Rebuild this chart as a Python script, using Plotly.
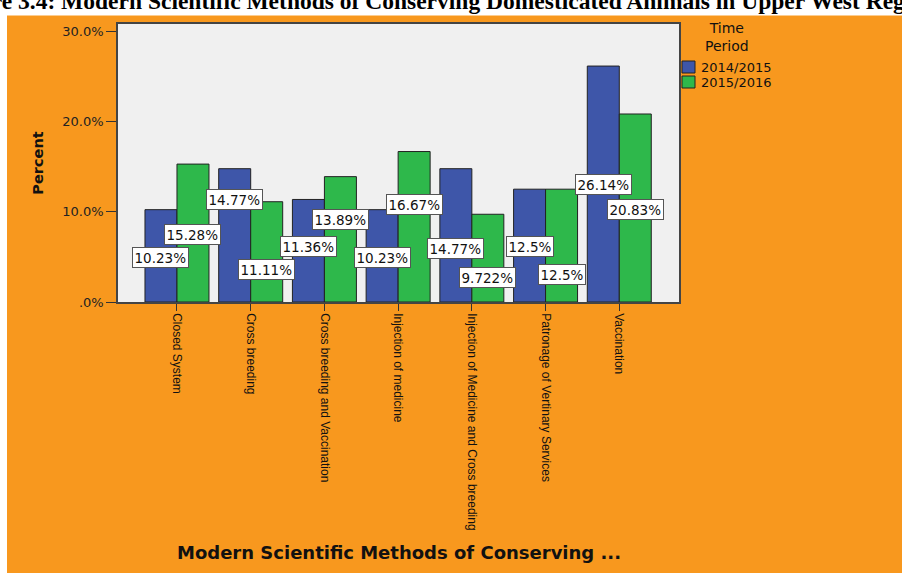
import plotly.graph_objects as go

# Methods (x categories) and the share of respondents per time period (%)
methods = [
    "Closed System",
    "Cross breeding",
    "Cross breeding and Vaccination",
    "Injection of medicine",
    "Injection of Medicine and Cross breeding",
    "Patronage of Vertinary Services",
    "Vaccination",
]
period_names = ["2014/2015", "2015/2016"]
pct_2014_2015 = [10.23, 14.77, 11.36, 10.23, 14.77, 12.5, 26.14]
pct_2015_2016 = [15.28, 11.11, 13.89, 16.67, 9.722, 12.5, 20.83]

# y-axis ticks
y_tick_vals = [0, 10, 20, 30]
y_tick_text = [".0%", "10.0%", "20.0%", "30.0%"]

# vertical placement of the value boxes (in percent units)
label_pos_2014 = [4.98, 11.4, 6.2, 4.98, 5.98, 6.2, 13.06]
label_pos_2015 = [7.53, 3.65, 9.19, 10.85, 2.77, 3.1, 10.3]

ORANGE = "#F8981E"
COLORS = ["#3E56A9", "#2EB84B"]
W, H = 902, 573
L, R, T, B = 118, 223, 24, 271

fig = go.Figure()
for name, vals, col in zip(period_names, [pct_2014_2015, pct_2015_2016], COLORS):
    fig.add_trace(go.Bar(
        x=methods, y=vals, name=name, showlegend=False,
        marker=dict(color=col, line=dict(color="#222222", width=1)),
    ))

bar_w = 0.434
annotations = []
for i in range(len(methods)):
    for vals, pos, off in [
        (pct_2014_2015, label_pos_2014, -bar_w / 2),
        (pct_2015_2016, label_pos_2015, bar_w / 2),
    ]:
        annotations.append(dict(
            x=i + off, y=pos[i], xref="x", yref="y",
            text=f"{vals[i]:.4g}%", showarrow=False,
            font=dict(family="DejaVu Sans", size=13.5, color="#111111"),
            bgcolor="white", bordercolor="#555555", borderwidth=1, borderpad=1.5,
        ))

# x-axis title
annotations.append(dict(
    x=0.5, y=0, xref="paper", yref="paper", yanchor="middle", yshift=-250,
    text="<b>Modern Scientific Methods of Conserving ...</b>", showarrow=False,
    font=dict(family="DejaVu Sans", size=18, color="#111111"),
))
# caption line running across the top edge
annotations.append(dict(
    x=0, y=1, xref="paper", yref="paper", xanchor="left", yanchor="bottom",
    xshift=-L - 56, yshift=7.5,
    text="<b>Figure 3.4: Modern Scientific Methods of Conserving Domesticated Animals in Upper West Region</b>",
    showarrow=False,
    font=dict(family="Liberation Serif, Times New Roman, serif", size=23.5, color="#000000"),
))

# legend, drawn to the right of the plot area
legend_font = dict(family="DejaVu Sans", size=13, color="#111111")
annotations.append(dict(
    x=1, y=1, xref="paper", yref="paper", xanchor="center", yanchor="middle",
    xshift=48, yshift=-13, text="Time<br>Period", showarrow=False, borderpad=0,
    font=dict(family="DejaVu Sans", size=14, color="#111111"),
))

shapes = []
for k, (name, col) in enumerate(zip(period_names, COLORS)):
    top = -37 - 15 * k
    shapes.append(dict(
        type="rect", xref="paper", yref="paper", xsizemode="pixel", ysizemode="pixel",
        xanchor=1, yanchor=1, x0=3, x1=16, y0=top - 12, y1=top,
        fillcolor=col, line=dict(color="#222222", width=1),
    ))
    annotations.append(dict(
        x=1, y=1, xref="paper", yref="paper", xanchor="left", yanchor="middle",
        xshift=20, yshift=top - 6.5, text=name, showarrow=False, font=legend_font,
    ))

shapes += [
    # white strip along the top
    dict(type="rect", xref="paper", yref="paper", xsizemode="pixel", ysizemode="pixel",
         xanchor=0, yanchor=1, x0=-L - 5, x1=W, y0=T - 15.5, y1=T + 5,
         fillcolor="white", line=dict(width=0), layer="above"),
    # white strip along the left edge
    dict(type="rect", xref="paper", yref="paper", xsizemode="pixel", ysizemode="pixel",
         xanchor=0, yanchor=0, x0=-L - 5, x1=-L + 7, y0=-B - 5, y1=H,
         fillcolor="white", line=dict(width=0), layer="above"),
]

fig.update_layout(
    width=W, height=H,
    margin=dict(l=L, r=R, t=T, b=B, pad=0),
    paper_bgcolor=ORANGE, plot_bgcolor="#F0F0F0",
    barmode="group", bargap=0.132, bargroupgap=0,
    font=dict(family="Liberation Sans, Arial", color="#111111"),
    annotations=annotations, shapes=shapes,
    xaxis=dict(
        range=[-0.8, 6.81], tickangle=90,
        ticks="outside", ticklen=7, tickcolor="#333333", tickwidth=1.3,
        showline=True, linecolor="#444444", linewidth=1.5, mirror=True,
        showgrid=False, zeroline=False,
        tickfont=dict(family="Liberation Sans, Arial", size=12, color="#111111"),
    ),
    yaxis=dict(
        range=[0, 30.8], tickvals=y_tick_vals, ticktext=y_tick_text,
        ticks="outside", ticklen=10, tickcolor="#333333", tickwidth=1.3,
        showline=True, linecolor="#444444", linewidth=1.5, mirror=True,
        showgrid=False, zeroline=False,
        tickfont=dict(family="DejaVu Sans", size=13, color="#222222"),
        title=dict(text="<b>Percent</b>", standoff=15,
                   font=dict(family="DejaVu Sans", size=14.5, color="#111111")),
    ),
)

fig.write_html("out.html")
